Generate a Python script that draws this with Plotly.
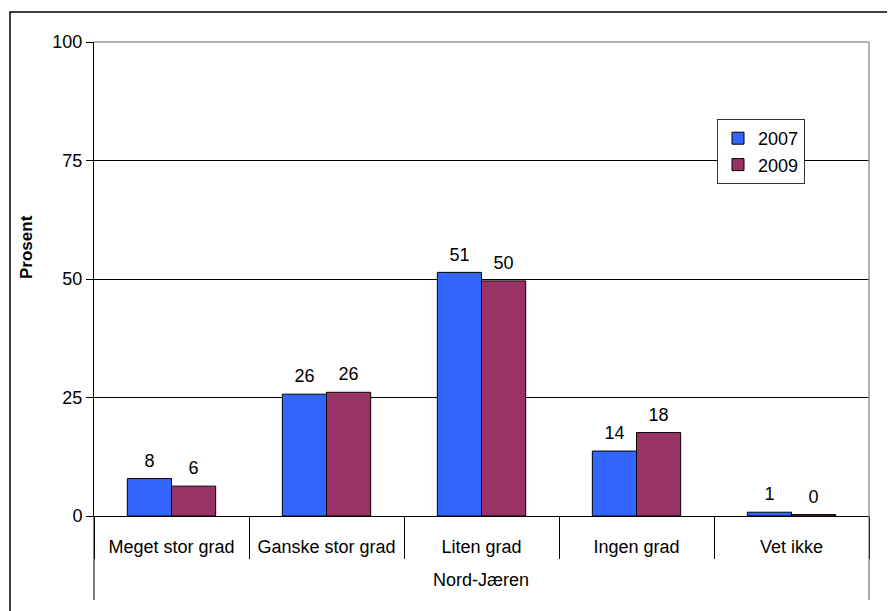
import plotly.graph_objects as go

categories = ["Meget stor grad", "Ganske stor grad", "Liten grad", "Ingen grad", "Vet ikke"]
group_label = "Nord-Jæren"
values_2007 = [7.9, 25.7, 51.4, 13.7, 0.8]
values_2009 = [6.3, 26.1, 49.6, 17.6, 0.3]
y_ticks = [0, 25, 50, 75, 100]

FONT = "Arial, Liberation Sans, sans-serif"
OFF = 8  # browser body margin
W, H = 895 - OFF, 611 - OFF
ML, MT = 94 - OFF, 42 - OFF
MR = W - (869 - OFF)
MB = H - (516 - OFF)
PW, PH = W - ML - MR, H - MT - MB

fig = go.Figure()
for name, vals, col in [("2007", values_2007, "#3366FF"), ("2009", values_2009, "#993366")]:
    fig.add_trace(go.Bar(
        x=categories, y=vals, name=name,
        marker=dict(color=col, line=dict(color="black", width=1)),
        texttemplate="<span style='font-size:18px'>%{y:.0f}</span><br><span style='color:rgba(0,0,0,0)'>.</span>",
        textposition="outside", cliponaxis=False,
        textfont=dict(family=FONT, size=6, color="black"),
    ))

def px_x(p):
    return (p - OFF - ML) / PW

def px_y(p):
    return (H - MB - (p - OFF)) / PH

shapes = [
    dict(type="rect", xref="paper", yref="paper", x0=px_x(10), x1=px_x(910), y0=px_y(620), y1=px_y(12),
         line=dict(color="black", width=1.5), layer="below"),
    dict(type="line", xref="paper", yref="paper", x0=0, x1=1, y0=1, y1=1, line=dict(color="#999999", width=1.5)),
    dict(type="line", xref="paper", yref="paper", x0=1, x1=1, y0=0, y1=1, line=dict(color="#999999", width=1.5)),
    dict(type="line", xref="paper", yref="paper", x0=0, x1=0, y0=px_y(600), y1=0, line=dict(color="black", width=1)),
    dict(type="line", xref="paper", yref="paper", x0=1, x1=1, y0=px_y(600), y1=0, line=dict(color="#555555", width=1)),
]

fig.update_layout(
    width=W, height=H,
    margin=dict(l=ML, r=MR, t=MT, b=MB),
    paper_bgcolor="white", plot_bgcolor="white",
    barmode="group", bargap=0.43, bargroupgap=0,
    font=dict(family=FONT, size=18, color="black"),
    showlegend=True,
    legend=dict(x=px_x(717), y=px_y(119), xanchor="left", yanchor="top",
                bgcolor="white", bordercolor="#333333", borderwidth=1,
                font=dict(family=FONT, size=18, color="black"),
                itemwidth=30, tracegroupgap=0),
    shapes=shapes,
    annotations=[
        dict(text="<b>Prosent</b>", xref="paper", yref="paper", x=px_x(26), y=px_y(247),
             textangle=-90, showarrow=False, xanchor="center", yanchor="middle",
             font=dict(family=FONT, size=17, color="black")),
        dict(text=group_label, xref="paper", yref="paper", x=px_x(481), y=px_y(580),
             showarrow=False, xanchor="center", yanchor="middle",
             font=dict(family=FONT, size=18, color="black")),
    ],
)

fig.update_xaxes(
    type="category", range=[-0.5, len(categories) - 0.5],
    showline=True, linecolor="black", linewidth=1,
    ticks="outside", tickson="boundaries", ticklen=42, tickcolor="black", tickwidth=1,
    ticklabelstandoff=14,
    tickfont=dict(family=FONT, size=18, color="black"),
    showgrid=False, zeroline=False,
)
fig.update_yaxes(
    range=[0, 100], tickvals=y_ticks, ticktext=[str(v) for v in y_ticks],
    showline=True, linecolor="black", linewidth=1,
    ticks="outside", ticklen=7, tickcolor="black",
    showgrid=True, gridcolor="black", gridwidth=1, zeroline=False,
    tickfont=dict(family=FONT, size=18, color="black"),
)

fig.write_html("out.html")
